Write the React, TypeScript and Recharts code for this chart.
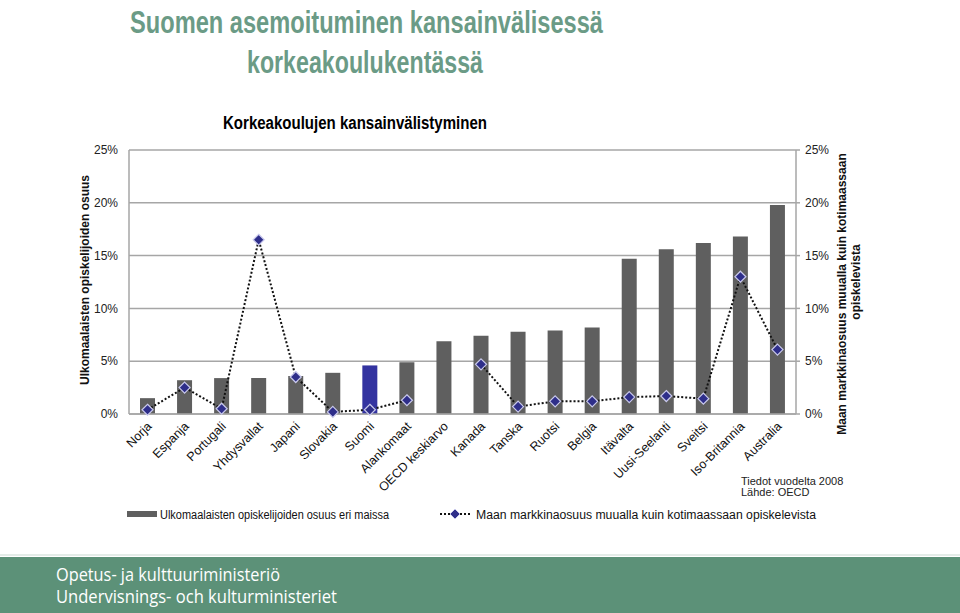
import React from 'react';
import { ComposedChart, Bar, Line, XAxis, YAxis, CartesianGrid, Cell } from 'recharts';

const countries = [
  'Norja', 'Espanja', 'Portugali', 'Yhdysvallat', 'Japani', 'Slovakia', 'Suomi', 'Alankomaat',
  'OECD keskiarvo', 'Kanada', 'Tanska', 'Ruotsi', 'Belgia', 'Itävalta', 'Uusi-Seelanti',
  'Sveitsi', 'Iso-Britannia', 'Australia',
];
// Ulkomaalaisten opiskelijoiden osuus (%)
const foreignShare = [1.5, 3.2, 3.4, 3.4, 3.6, 3.9, 4.6, 4.9, 6.9, 7.4, 7.8, 7.9, 8.2, 14.7, 15.6, 16.2, 16.8, 19.8];
// Maan markkinaosuus muualla kuin kotimaassaan opiskelevista (%)
const marketShare = [0.4, 2.5, 0.5, 16.5, 3.5, 0.2, 0.4, 1.3, null, 4.7, 0.7, 1.2, 1.2, 1.6, 1.7, 1.45, 13.0, 6.1];
const percentTicks = [0, 5, 10, 15, 20, 25];

const data = countries.map((name, i) => ({ name, share: foreignShare[i], market: marketShare[i] }));

const GRID = '#a6a6a6';
const BAR = '#5f5f5f';
const FINLAND = '#3333a0';
const DIAMOND = '#2e2e8a';
const GREEN = '#6b9b86';
const FOOTER = '#5c9178';
const FONT = '"Liberation Sans", Arial, sans-serif';
const NARROW = '"Liberation Sans Narrow", ' + FONT;

const Diamond = (props: any) => {
  const { cx, cy } = props;
  if (cx == null || cy == null || props.value == null) return null;
  const r = 5.5;
  return (
    <polygon
      points={`${cx},${cy - r} ${cx + r},${cy} ${cx},${cy + r} ${cx - r},${cy}`}
      fill={DIAMOND}
      stroke="#c9c9ec"
      strokeWidth={1.2}
    />
  );
};

const CountryTick = (props: any) => {
  const { x, y, payload } = props;
  const px = x + 5;
  const py = y + 5;
  return (
    <text
      x={px}
      y={py}
      textAnchor="end"
      fontSize={12.5}
      fill="#111"
      fontFamily={FONT}
      transform={`rotate(-45 ${px} ${py})`}
    >
      {payload.value}
    </text>
  );
};

const pct = (v: number) => `${v}%`;

export default function App() {
  return (
    <div style={{ position: 'absolute', left: 0, top: 0, width: 960, height: 613, background: '#fff', fontFamily: FONT, overflow: 'hidden' }}>
      <svg width={960} height={140} style={{ position: 'absolute', left: 0, top: 0 }}>
        <text x={130} y={33} fontSize={32} fontWeight="bold" fill={GREEN} fontFamily={NARROW} textLength={473} lengthAdjust="spacingAndGlyphs">
          Suomen asemoituminen kansainvälisessä
        </text>
        <text x={247} y={73} fontSize={32} fontWeight="bold" fill={GREEN} fontFamily={NARROW} textLength={236} lengthAdjust="spacingAndGlyphs">
          korkeakoulukentässä
        </text>
        <text x={223} y={129} fontSize={18} fontWeight="bold" fill="#000" fontFamily={NARROW} textLength={264} lengthAdjust="spacingAndGlyphs">
          Korkeakoulujen kansainvälistyminen
        </text>
      </svg>

      <div style={{ position: 'absolute', left: 0, top: 0 }}>
        <ComposedChart width={960} height={613} data={data} margin={{ top: 150, right: 114, bottom: 139, left: 79 }}>
          <CartesianGrid yAxisId="left" vertical={false} stroke={GRID} strokeWidth={1.5} />
          <XAxis
            dataKey="name"
            interval={0}
            height={60}
            tickLine={false}
            axisLine={{ stroke: GRID, strokeWidth: 1.5 }}
            tick={<CountryTick />}
          />
          <YAxis
            yAxisId="left"
            width={50}
            domain={[0, 25]}
            ticks={percentTicks}
            tickFormatter={pct}
            tickLine={false}
            tickSize={6}
            tickMargin={5}
            axisLine={{ stroke: GRID, strokeWidth: 1.5 }}
            tick={{ fontSize: 12, fill: '#222', fontFamily: FONT }}
          />
          <YAxis
            yAxisId="right"
            orientation="right"
            width={50}
            domain={[0, 25]}
            ticks={percentTicks}
            tickFormatter={pct}
            tickSize={4}
            tickMargin={5}
            tickLine={{ stroke: GRID, strokeWidth: 1.5 }}
            axisLine={{ stroke: GRID, strokeWidth: 1.5 }}
            tick={{ fontSize: 12, fill: '#222', fontFamily: FONT }}
          />
          <Bar yAxisId="left" dataKey="share" barSize={15} fill={BAR} isAnimationActive={false}>
            {data.map((d) => (
              <Cell key={d.name} fill={d.name === 'Suomi' ? FINLAND : BAR} />
            ))}
          </Bar>
          <Line
            yAxisId="right"
            type="linear"
            dataKey="market"
            stroke="#111"
            strokeWidth={2}
            strokeDasharray="2 2"
            connectNulls={false}
            dot={<Diamond />}
            activeDot={false}
            isAnimationActive={false}
          />
        </ComposedChart>
      </div>

      <svg width={960} height={613} style={{ position: 'absolute', left: 0, top: 0, pointerEvents: 'none' }}>
        <text transform="translate(89 280) rotate(-90)" textAnchor="middle" fontSize={12} fontWeight="bold" fill="#111" fontFamily={FONT}>
          Ulkomaalaisten opiskelijoiden osuus
        </text>
        <text transform="translate(846 294) rotate(-90)" textAnchor="middle" fontSize={12} fontWeight="bold" fill="#111" fontFamily={FONT}>
          Maan markkinaosuus muualla kuin kotimaassaan
        </text>
        <text transform="translate(860 282) rotate(-90)" textAnchor="middle" fontSize={12} fontWeight="bold" fill="#111" fontFamily={FONT}>
          opiskelevista
        </text>

        <text x={741} y={485} fontSize={11} fill="#222" fontFamily={FONT}>Tiedot vuodelta 2008</text>
        <text x={741} y={496} fontSize={11} fill="#222" fontFamily={FONT}>Lähde: OECD</text>

        <rect x={127} y={511} width={30} height={6} fill={BAR} />
        <text x={160} y={519} fontSize={12} fill="#111" fontFamily={FONT} textLength={229} lengthAdjust="spacingAndGlyphs">
          Ulkomaalaisten opiskelijoiden osuus eri maissa
        </text>
        <line x1={440} y1={514} x2={471} y2={514} stroke="#111" strokeWidth={2} strokeDasharray="2 2" />
        <polygon points="455,509 460,514 455,519 450,514" fill={DIAMOND} stroke="#c9c9ec" strokeWidth={1} />
        <text x={476} y={519} fontSize={12} fill="#111" fontFamily={FONT} textLength={340} lengthAdjust="spacingAndGlyphs">
          Maan markkinaosuus muualla kuin kotimaassaan opiskelevista
        </text>

        <line x1={0} y1={555} x2={960} y2={555} stroke="#e4ece8" strokeWidth={2} />
        <rect x={0} y={557} width={960} height={56} fill={FOOTER} />
        <text x={56} y={581} fontSize={18} fill="#fff" fontFamily={'"Open Sans", ' + FONT} textLength={224} lengthAdjust="spacingAndGlyphs">
          Opetus- ja kulttuuriministeriö
        </text>
        <text x={56} y={603} fontSize={18} fill="#fff" fontFamily={'"Open Sans", ' + FONT} textLength={281} lengthAdjust="spacingAndGlyphs">
          Undervisnings- och kulturministeriet
        </text>
      </svg>
    </div>
  );
}
